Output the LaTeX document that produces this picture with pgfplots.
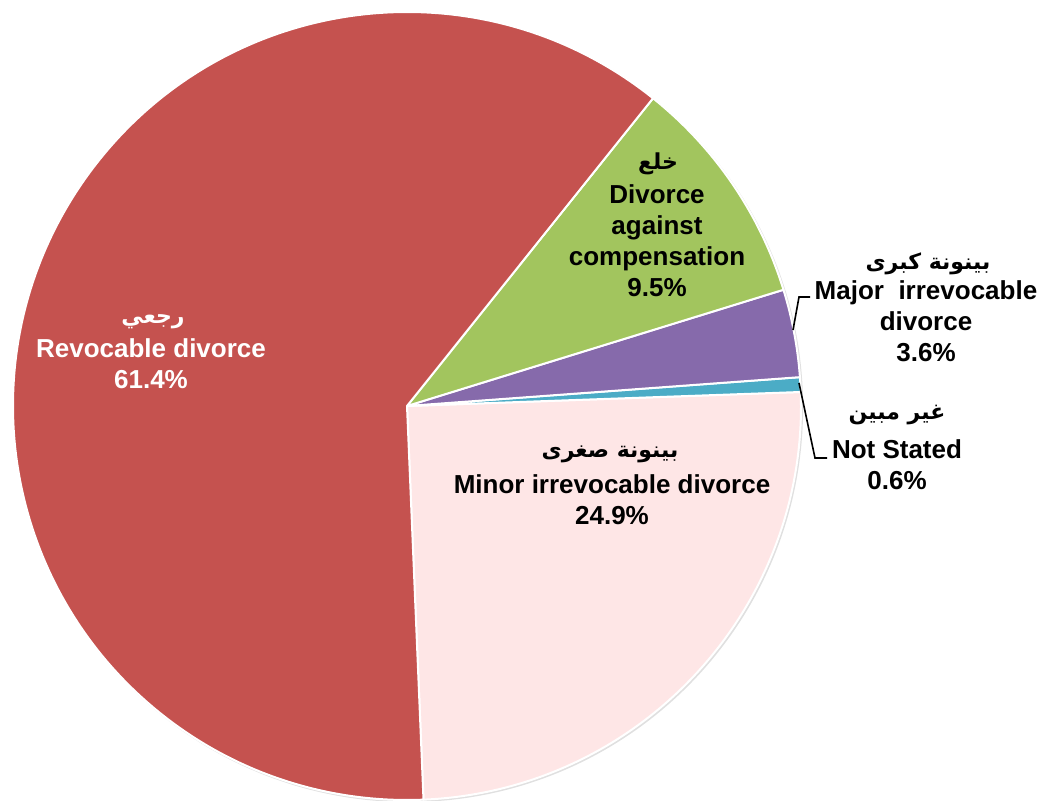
\documentclass[border=0pt]{standalone}
\usepackage{pgfplots}
\pgfplotsset{compat=1.18}
\usepackage{pgfplotstable}
\usepackage{fontspec}
\setmainfont{Liberation Sans}
\newfontfamily\arabicfont[Script=Arabic]{DejaVu Sans}
\TeXXeTstate=1

\definecolor{cRaj}{RGB}{197,82,79}
\definecolor{cKhul}{RGB}{162,197,94}
\definecolor{cMajor}{RGB}{134,106,171}
\definecolor{cNS}{RGB}{75,172,198}
\definecolor{cMinor}{RGB}{254,230,230}

\pgfplotstableread{
share color
24.9 cMinor
0.6 cNS
3.6 cMajor
9.5 cKhul
61.4 cRaj
}\slices

\begin{document}
\begin{tikzpicture}
\begin{axis}[hide axis, scale only axis, width=523.5pt, height=400pt,
  xmin=0, xmax=1047, ymin=0, ymax=800, clip=false]
\coordinate (ll) at (axis cs:0,0);
\coordinate (ur) at (axis cs:1047,800);
\fill[black!12] (axis cs:408.5,392.5) circle[radius=197.3pt];
\xdef\angstart{-87.6}
\foreach \i in {0,...,4}{
  \pgfplotstablegetelem{\i}{share}\of\slices \let\p\pgfplotsretval
  \pgfplotstablegetelem{\i}{color}\of\slices \let\c\pgfplotsretval
  \pgfmathsetmacro\b{\angstart+3.6*\p}
  \edef\slice{\noexpand\fill[\c, draw=white, line width=1pt, line join=round] (axis cs:407,394) -- ++(\angstart:197pt) arc[start angle=\angstart, end angle=\b, radius=197pt] -- cycle;}
  \slice
  \xdef\angstart{\b}
}
% leader lines
\draw[black, line width=0.8pt] (axis cs:793,470) -- (axis cs:799,503) -- (axis cs:810,503);
\draw[black, line width=0.8pt] (axis cs:799,417) -- (axis cs:815,342) -- (axis cs:827,342);
% labels
\tikzset{ar/.style={font=\arabicfont\bfseries\fontsize{11}{13}\selectfont, inner sep=0pt},
         en/.style={align=center, font=\bfseries\fontsize{13}{15.5}\selectfont, inner sep=0pt}}
\node[ar, text=white] at (axis cs:153,478) {\beginR رجعي\endR};
\node[en, text=white] at (axis cs:151,436) {Revocable divorce\\61.4\%};
\node[ar] at (axis cs:658,636) {\beginR خلع\endR};
\node[en] at (axis cs:657,559) {Divorce\\against\\compensation\\9.5\%};
\node[ar] at (axis cs:928,536) {\beginR بينونة كبرى\endR};
\node[en] at (axis cs:926,479) {Major\ \ irrevocable\\divorce\\3.6\%};
\node[ar] at (axis cs:610,346) {\beginR بينونة صغرى\endR};
\node[en] at (axis cs:612,300) {Minor irrevocable divorce\\24.9\%};
\node[ar] at (axis cs:897,385) {\beginR غير مبين\endR};
\node[en] at (axis cs:897,335) {Not Stated\\0.6\%};
\end{axis}
\pgfresetboundingbox
\useasboundingbox (ll) rectangle (ur);
\end{tikzpicture}
\end{document}
